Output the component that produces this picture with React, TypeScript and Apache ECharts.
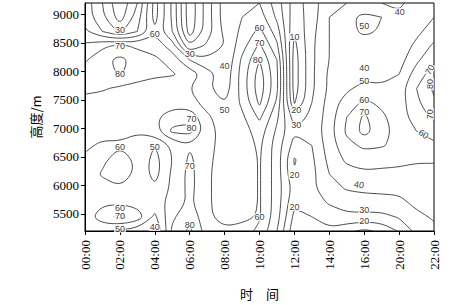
import React, { useEffect, useRef } from "react";
import * as echarts from "echarts";

// x positions: time index (0..10), labels below
const timeLabels = ["00:00", "02:00", "04:00", "06:00", "08:00", "10:00", "12:00", "14:00", "16:00", "20:00", "22:00"];
const timeSteps = [0, 0.5, 1, 1.5, 2, 2.5, 3, 3.5, 4, 4.5, 5, 5.5, 6, 6.5, 7, 7.5, 8, 8.5, 9, 9.5, 10];
const heights = [9200, 8950, 8700, 8450, 8200, 7950, 7700, 7450, 7200, 6950, 6700, 6450, 6200, 5950, 5700, 5450, 5200];
const yTicks = [5500, 6000, 6500, 7000, 7500, 8000, 8500, 9000];
const levels = [10, 20, 30, 40, 50, 60, 70, 80];

// gridded values, one row per height (top to bottom), one value per time step
const rh9200 = [46, 30, 12, 30, 64, 38, 3, 25, 45, 48, 50, 35, 15, 25, 38, 40, 42, 40, 38, 45, 48];
const rh8950 = [46, 32, 15, 35, 64, 38, 3, 25, 45, 50, 55, 38, 14, 25, 40, 47, 53, 50, 42, 45, 50];
const rh8700 = [52, 40, 28, 40, 58, 40, 5, 25, 43, 52, 63, 45, 11, 27, 40, 47, 52, 49, 44, 48, 54];
const rh8450 = [62, 68, 72, 68, 66, 55, 20, 32, 40, 56, 72, 52, 7, 28, 40, 44, 45, 45, 45, 52, 62];
const rh8200 = [69, 77, 83, 76, 72, 66, 50, 42, 40, 62, 80, 60, 5, 28, 40, 43, 41, 43, 46, 58, 68];
const rh7950 = [73, 76, 81, 75, 72, 71, 66, 55, 43, 64, 85, 62, 5, 28, 42, 46, 46, 46, 50, 65, 75];
const rh7700 = [72, 71, 68, 66, 64, 63, 60, 52, 44, 64, 86, 62, 5, 28, 42, 48, 54, 52, 55, 70, 82];
const rh7450 = [67, 66, 64, 63, 63, 65, 64, 56, 50, 62, 82, 58, 9, 30, 44, 55, 62, 58, 55, 68, 78];
const rh7200 = [64, 64, 63, 64, 68, 76, 77, 62, 54, 58, 72, 52, 25, 32, 45, 60, 72, 62, 55, 65, 72];
const rh6950 = [64, 64, 62, 61, 66, 82, 83, 65, 55, 55, 65, 48, 31, 33, 46, 62, 74, 64, 56, 60, 64];
const rh6700 = [62, 58, 59, 56, 50, 62, 69, 64, 55, 54, 62, 45, 26, 30, 45, 57, 62, 61, 57, 57, 58];
const rh6450 = [58, 58, 65, 58, 46, 60, 72, 63, 54, 52, 61, 45, 19, 28, 43, 52, 55, 53, 51, 51, 51];
const rh6200 = [55, 61, 65, 58, 46, 62, 73, 62, 54, 52, 61, 45, 21, 27, 40, 46, 48, 48, 49, 47, 47];
const rh5950 = [52, 57, 59, 57, 52, 62, 73, 62, 54, 52, 61, 45, 26, 28, 36, 41, 42, 42, 42, 44, 45];
const rh5700 = [55, 58, 58, 56, 55, 64, 72, 62, 54, 52, 61, 45, 22, 26, 31, 34, 36, 37, 38, 42, 43];
const rh5450 = [55, 66, 73, 66, 48, 68, 78, 62, 56, 57, 61, 44, 17, 20, 25, 28, 27, 27, 31, 38, 41];
const rh5200 = [52, 52, 48, 45, 38, 72, 82, 65, 62, 64, 58, 40, 13, 16, 18, 12, 8, 12, 21, 33, 38];

// contour labels (time index, height, text, rotation)
const labelT = [1.0, 1.0, 1.0, 2.0, 3.0, 4.0, 4.0, 5.0, 5.0, 4.95, 6.0, 6.05, 6.05, 6.0, 6.0, 5.0, 9.02, 8.0, 8.0, 8.0, 8.0, 8.0, 7.85, 8.0, 8.0, 9.88, 9.88, 9.88, 9.7, 1.0, 2.0, 3.05, 3.05, 3.0, 3.0, 1.0, 1.0, 1.0, 2.0];
const labelH = [8720, 8450, 7950, 8650, 8300, 8100, 7330, 8770, 8500, 8200, 8600, 7320, 7060, 6180, 5620, 5440, 9040, 8800, 8060, 7840, 7500, 7290, 6010, 5560, 5370, 8030, 7780, 7250, 6900, 6680, 6680, 7160, 7000, 6340, 5310, 5610, 5460, 5240, 5270];
const labelText = ["30", "70", "80", "60", "30", "40", "50", "60", "70", "80", "10", "20", "30", "20", "20", "60", "40", "50", "40", "50", "60", "70", "40", "30", "20", "70", "80", "70", "60", "60", "50", "70", "80", "70", "80", "60", "70", "50", "40"];
const labelRot = [0, 0, 0, 0, 0, 0, 0, 0, 0, 0, 0, 0, 0, 0, 0, 0, 0, 0, 0, 0, 0, 0, -10, 0, 0, 60, 90, 90, -35, 0, 0, 0, 0, 0, 0, 0, 0, 0, 0];

type Pt = [number, number];

function contourLines(): Pt[][] {
  const rows = [rh9200, rh8950, rh8700, rh8450, rh8200, rh7950, rh7700, rh7450, rh7200, rh6950, rh6700, rh6450, rh6200, rh5950, rh5700, rh5450, rh5200].slice().reverse();
  const ys = heights.slice().reverse();
  const xs = timeSteps;
  const ny = rows.length;
  const nx = xs.length;
  const out: Pt[][] = [];
  for (const level of levels) {
    const keyPoint = (k: string): Pt => {
      const [t, si, sj] = k.split("_");
      const i = +si;
      const j = +sj;
      if (t === "h") {
        const v0 = rows[i][j];
        const v1 = rows[i][j + 1];
        const f = v1 === v0 ? 0.5 : (level - v0) / (v1 - v0);
        return [xs[j] + f * (xs[j + 1] - xs[j]), ys[i]];
      }
      const v0 = rows[i][j];
      const v1 = rows[i + 1][j];
      const f = v1 === v0 ? 0.5 : (level - v0) / (v1 - v0);
      return [xs[j], ys[i] + f * (ys[i + 1] - ys[i])];
    };
    const segs: string[][] = [];
    for (let i = 0; i < ny - 1; i++) {
      for (let j = 0; j < nx - 1; j++) {
        const a = rows[i][j], b = rows[i][j + 1], c = rows[i + 1][j + 1], d = rows[i + 1][j];
        const A = a >= level, B = b >= level, C = c >= level, D = d >= level;
        const eB = `h_${i}_${j}`, eR = `v_${i}_${j + 1}`, eT = `h_${i + 1}_${j}`, eL = `v_${i}_${j}`;
        const crossed: string[] = [];
        if (A !== B) crossed.push(eB);
        if (B !== C) crossed.push(eR);
        if (D !== C) crossed.push(eT);
        if (A !== D) crossed.push(eL);
        if (crossed.length === 2) segs.push(crossed);
        else if (crossed.length === 4) {
          const center = (a + b + c + d) / 4 >= level;
          if (A && C) {
            if (center) { segs.push([eB, eR]); segs.push([eL, eT]); }
            else { segs.push([eL, eB]); segs.push([eR, eT]); }
          } else {
            if (center) { segs.push([eL, eB]); segs.push([eR, eT]); }
            else { segs.push([eB, eR]); segs.push([eL, eT]); }
          }
        }
      }
    }
    const adj = new Map<string, number[]>();
    segs.forEach((s, idx) => {
      for (const k of s) {
        if (!adj.has(k)) adj.set(k, []);
        adj.get(k)!.push(idx);
      }
    });
    const used = new Array(segs.length).fill(false);
    const next = (cur: string): string | null => {
      const list = adj.get(cur) || [];
      for (const si of list) {
        if (!used[si]) {
          used[si] = true;
          const s = segs[si];
          return s[0] === cur ? s[1] : s[0];
        }
      }
      return null;
    };
    for (let s = 0; s < segs.length; s++) {
      if (used[s]) continue;
      used[s] = true;
      const chain = [segs[s][0], segs[s][1]];
      let closed = false;
      let cur: string | null = chain[1];
      while (true) {
        const n = next(cur!);
        if (n === null) break;
        chain.push(n);
        cur = n;
        if (n === chain[0]) { closed = true; break; }
      }
      if (!closed) {
        cur = chain[0];
        while (true) {
          const n = next(cur!);
          if (n === null) break;
          chain.unshift(n);
          cur = n;
        }
      }
      let pts: Pt[] = chain.map(keyPoint);
      // Chaikin smoothing for drawing
      for (let it = 0; it < 3; it++) {
        const res: Pt[] = [];
        const n = pts.length;
        if (closed) {
          for (let k = 0; k < n - 1; k++) {
            const p = pts[k], q = pts[k + 1];
            res.push([0.75 * p[0] + 0.25 * q[0], 0.75 * p[1] + 0.25 * q[1]]);
            res.push([0.25 * p[0] + 0.75 * q[0], 0.25 * p[1] + 0.75 * q[1]]);
          }
          res.push(res[0]);
        } else {
          res.push(pts[0]);
          for (let k = 0; k < n - 1; k++) {
            const p = pts[k], q = pts[k + 1];
            res.push([0.75 * p[0] + 0.25 * q[0], 0.75 * p[1] + 0.25 * q[1]]);
            res.push([0.25 * p[0] + 0.75 * q[0], 0.25 * p[1] + 0.75 * q[1]]);
          }
          res.push(pts[n - 1]);
        }
        pts = res;
      }
      out.push(pts);
    }
  }
  return out;
}

export default function App() {
  const ref = useRef<HTMLDivElement>(null);
  useEffect(() => {
    document.body.style.margin = "0";
    if (!ref.current) return;
    const chart = echarts.init(ref.current, null, { renderer: "svg" });
    const lines = contourLines();
    const serif = "'Liberation Serif', 'Times New Roman', serif";
    const cjk = "'Noto Sans CJK SC', sans-serif";
    chart.setOption({
      animation: false,
      backgroundColor: "#fff",
      grid: { left: 85, right: 29, top: 3, bottom: 68, show: true, borderColor: "#000", borderWidth: 1, backgroundColor: "transparent" },
      xAxis: {
        type: "value",
        min: 0,
        max: 10,
        interval: 1,
        axisLine: { show: true, lineStyle: { color: "#000", width: 1 } },
        axisTick: { show: true, length: 4, lineStyle: { color: "#000" } },
        splitLine: { show: false },
        axisLabel: {
          rotate: 90,
          margin: 9,
          color: "#000",
          fontFamily: serif,
          fontSize: 13,
          formatter: (v: number) => timeLabels[Math.round(v)] ?? "",
        },
        name: "时　间",
        nameLocation: "middle",
        nameGap: 56,
        nameTextStyle: { fontFamily: cjk, fontSize: 13, color: "#000" },
      },
      yAxis: {
        type: "value",
        min: 5200,
        max: 9200,
        axisLine: { show: true, lineStyle: { color: "#000", width: 1 } },
        axisTick: { show: true, length: 4, customValues: yTicks, lineStyle: { color: "#000" } },
        splitLine: { show: false },
        axisLabel: { customValues: yTicks, margin: 6, color: "#000", fontFamily: serif, fontSize: 13, formatter: (v: number) => String(v) },
        name: "高度/m",
        nameLocation: "middle",
        nameGap: 42,
        nameTextStyle: { fontFamily: cjk, fontSize: 13, color: "#000" },
      },
      series: [
        {
          type: "custom",
          clip: true,
          silent: true,
          z: 2,
          data: lines.map((_, i) => [5, 7000, i]),
          renderItem: (params: any, api: any) => {
            const pl = lines[api.value(2)];
            const points = pl.map((p) => api.coord(p));
            return {
              type: "polyline",
              shape: { points },
              style: { stroke: "#1a1a1a", lineWidth: 0.8, fill: "none" },
            };
          },
        },
        {
          type: "scatter",
          symbolSize: 0,
          z: 5,
          silent: true,
          data: labelT.map((t, i) => ({
            value: [t, labelH[i]],
            label: { formatter: labelText[i], rotate: labelRot[i] },
          })),
          label: {
            show: true,
            position: "inside",
            fontSize: 9,
            fontFamily: "'Liberation Sans', Arial, sans-serif",
            color: "#000",
            backgroundColor: "#fff",
            padding: [0, 1],
            lineHeight: 8,
          },
        },
      ],
    });
    return () => chart.dispose();
  }, []);
  return <div ref={ref} style={{ position: "fixed", left: 0, top: 0, width: 463, height: 305 }} />;
}
